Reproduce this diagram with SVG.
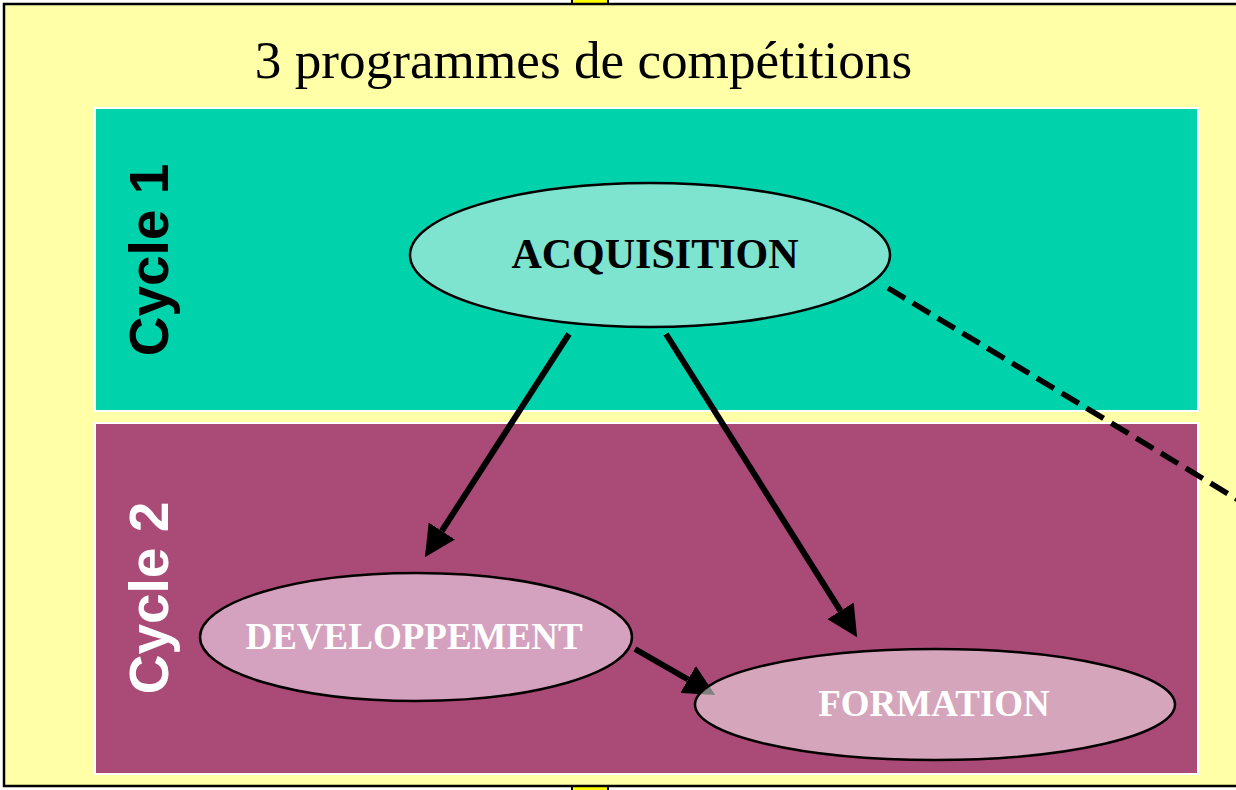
<svg xmlns="http://www.w3.org/2000/svg" width="1236" height="790" viewBox="0 0 1236 790">
<style>
.band{stroke:#ffffff;stroke-width:2}
.ell{stroke:#000;stroke-width:2.5}
.nt{font-family:"Liberation Serif","Times New Roman",serif;font-weight:bold;text-anchor:middle}
.cyc{font-family:"Liberation Sans",Arial,sans-serif;font-weight:bold;font-size:55px;text-anchor:middle}
.arr{stroke:#000;stroke-width:6;fill:none;marker-end:url(#ah)}
</style>
<defs>
<marker id="ah" viewBox="0 0 10 10" refX="0" refY="5" markerWidth="5.2" markerHeight="5.2" markerUnits="strokeWidth" orient="auto">
<path d="M0,0 L10,5 L0,10 z" fill="#000"/>
</marker>
</defs>
<rect x="0" y="0" width="1236" height="790" fill="#ffffff"/>
<rect x="572" y="-5" width="36" height="9" fill="#ffff00" stroke="#000" stroke-width="2"/>
<rect x="572" y="785" width="36" height="12" fill="#ffff00" stroke="#000" stroke-width="2"/>
<rect x="4" y="4" width="1240" height="782" fill="#ffffa8" stroke="#000" stroke-width="2.5"/>
<text x="583.5" y="78" font-family="'Liberation Serif','Times New Roman',serif" font-size="53.2" text-anchor="middle" fill="#000">3 programmes de compétitions</text>
<g id="cycle1">
<rect class="band" x="95" y="108" width="1103" height="303" fill="#00d2ac"/>
<text class="cyc" transform="translate(168,260) rotate(-90)" fill="#000">Cycle 1</text>
</g>
<g id="cycle2">
<rect class="band" x="95" y="423" width="1103" height="351" fill="#aa4a77"/>
<text class="cyc" transform="translate(168,598) rotate(-90)" fill="#fff">Cycle 2</text>
</g>
<g id="acquisition">
<ellipse class="ell" cx="650" cy="255" rx="240" ry="72" fill="#7ee3cf"/>
<text class="nt" x="655" y="268" font-size="42" fill="#000">ACQUISITION</text>
</g>
<g id="developpement">
<ellipse class="ell" cx="416" cy="637" rx="216" ry="64" fill="#d4a2be"/>
<text class="nt" x="414" y="649" font-size="37" fill="#fff">DEVELOPPEMENT</text>
</g>
<g id="connectors">
<line class="arr" x1="569" y1="334" x2="441.8" y2="531"/>
<line class="arr" x1="666" y1="334" x2="840.5" y2="610.8"/>
<line class="arr" x1="635" y1="649" x2="688.1" y2="679.5"/>
<line x1="888" y1="288" x2="1240" y2="501" stroke="#000" stroke-width="5.5" stroke-dasharray="20,9"/>
</g>
<g id="formation">
<ellipse class="ell" cx="935" cy="704.5" rx="240" ry="55.5" fill="#ffffff" fill-opacity="0.5"/>
<text class="nt" x="934" y="716" font-size="37" fill="#fff">FORMATION</text>
</g>
</svg>
